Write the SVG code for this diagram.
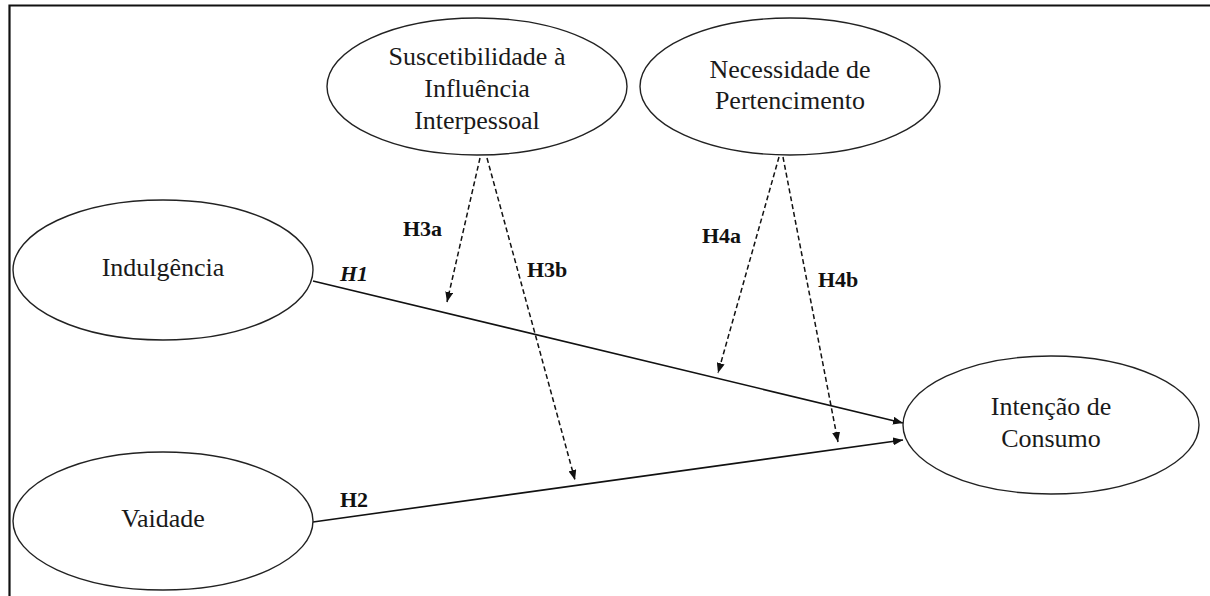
<svg xmlns="http://www.w3.org/2000/svg" width="1210" height="596" viewBox="0 0 1210 596">
<style>
.node ellipse{fill:#fff;stroke:#222;stroke-width:1.4}
.lbl{font-family:"Liberation Serif","Times New Roman",serif;font-size:26px;fill:#1a1a1a;text-anchor:middle}
.h{font-family:"Liberation Serif","Times New Roman",serif;font-size:22px;font-weight:bold;fill:#111}
.solid{stroke:#111;stroke-width:1.6;fill:none}
.dash{stroke:#111;stroke-width:1.5;fill:none;stroke-dasharray:5 3}
</style>
<defs>
<marker id="arr" viewBox="0 0 10 8" refX="10" refY="4" markerWidth="10" markerHeight="8" markerUnits="userSpaceOnUse" orient="auto">
<path d="M0,0 L10,4 L0,8 Z" fill="#111"/>
</marker>
</defs>
<rect width="1210" height="596" fill="#fff"/>
<g id="frame">
<path d="M9.5,596 L9.5,5.5 L1210,5.5" fill="none" stroke="#111" stroke-width="2.2"/>
</g>
<g id="connectors">
<line class="solid" x1="313" y1="281" x2="903" y2="423" marker-end="url(#arr)"/>
<line class="solid" x1="313" y1="522" x2="903" y2="440" marker-end="url(#arr)"/>
<line class="dash" x1="480" y1="158" x2="447" y2="302" marker-end="url(#arr)"/>
<line class="dash" x1="487" y1="158" x2="575" y2="480" marker-end="url(#arr)"/>
<line class="dash" x1="779" y1="157" x2="718" y2="373" marker-end="url(#arr)"/>
<line class="dash" x1="783" y1="157" x2="838" y2="442" marker-end="url(#arr)"/>
<text class="h" x="340" y="281" font-style="italic">H1</text>
<text class="h" x="340" y="507">H2</text>
<text class="h" x="403" y="236">H3a</text>
<text class="h" x="527" y="277">H3b</text>
<text class="h" x="702" y="243">H4a</text>
<text class="h" x="818" y="287">H4b</text>
</g>
<g id="suscetibilidade" class="node">
<ellipse cx="477" cy="86.5" rx="150" ry="68.5"/>
<text class="lbl" x="477" y="65">Suscetibilidade à</text>
<text class="lbl" x="477" y="97">Influência</text>
<text class="lbl" x="477" y="129">Interpessoal</text>
</g>
<g id="necessidade" class="node">
<ellipse cx="790" cy="86.5" rx="150" ry="68.5"/>
<text class="lbl" x="790" y="78">Necessidade de</text>
<text class="lbl" x="790" y="109">Pertencimento</text>
</g>
<g id="indulgencia" class="node">
<ellipse cx="163" cy="270" rx="150" ry="70"/>
<text class="lbl" x="163" y="276">Indulgência</text>
</g>
<g id="vaidade" class="node">
<ellipse cx="163" cy="521" rx="150" ry="69"/>
<text class="lbl" x="163" y="527">Vaidade</text>
</g>
<g id="intencao" class="node">
<ellipse cx="1051" cy="425" rx="148" ry="69"/>
<text class="lbl" x="1051" y="415">Intenção de</text>
<text class="lbl" x="1051" y="447">Consumo</text>
</g>
</svg>
